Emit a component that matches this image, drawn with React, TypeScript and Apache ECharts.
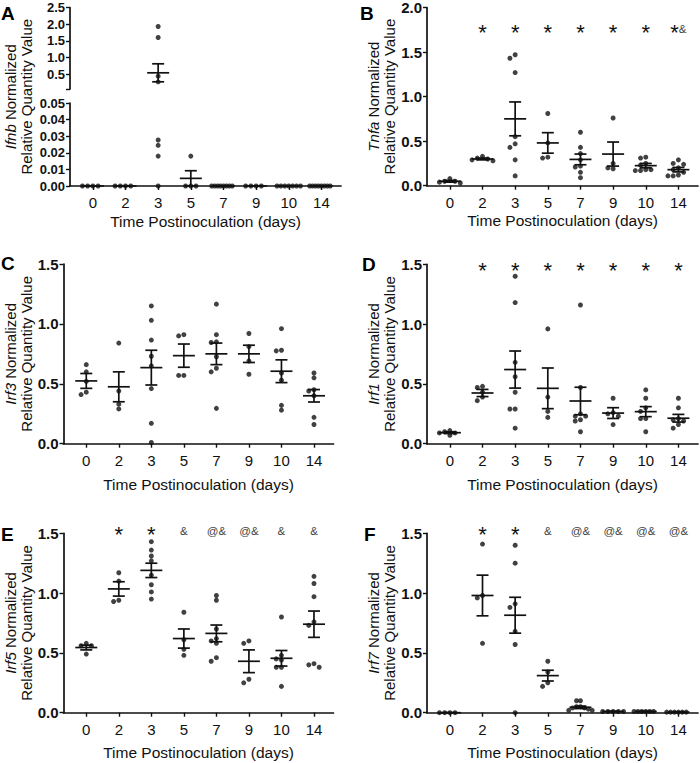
import React, { useEffect, useRef } from "react";
import * as echarts from "echarts";

// ---------- data ----------
const days = ["0", "2", "3", "5", "7", "9", "10", "14"];

// Panel A – Ifnb (broken axis)
const ifnbValues = [
  [0, 0, 0, 0],
  [0, 0, 0, 0],
  [1.93, 1.6, 0.44, 0.27, 0.0277, 0.0245, 0.018, 0],
  [0.018, 0, 0, 0],
  [0, 0, 0, 0, 0, 0, 0, 0],
  [0, 0, 0, 0],
  [0, 0, 0, 0, 0, 0, 0],
  [0, 0, 0, 0, 0, 0, 0, 0],
];
const ifnbMean = [0, 0, 0.54, 0.0046, 0, 0, 0, 0];
const ifnbSem = [0, 0, 0.27, 0.0046, 0, 0, 0, 0];
const ifnbUpperTicks = [0.5, 1, 1.5, 2, 2.5];

// Panel B – Tnfa
const tnfaValues = [
  [0.03, 0.04, 0.05, 0.05, 0.08],
  [0.28, 0.29, 0.3, 0.31, 0.33],
  [1.47, 1.43, 1.27, 0.55, 0.47, 0.43, 0.29, 0.11],
  [0.81, 0.48, 0.32, 0.31],
  [0.6, 0.43, 0.36, 0.29, 0.22, 0.21, 0.15, 0.09],
  [0.76, 0.25, 0.2, 0.19],
  [0.32, 0.31, 0.25, 0.23, 0.18, 0.18, 0.17, 0.17],
  [0.29, 0.25, 0.24, 0.2, 0.18, 0.15, 0.12, 0.11, 0.11],
];
const tnfaMean = [0.05, 0.3, 0.75, 0.48, 0.295, 0.355, 0.225, 0.18];
const tnfaSem = [0.01, 0.01, 0.19, 0.115, 0.06, 0.135, 0.025, 0.025];
const tnfaSig = ["", "*", "*", "*", "*", "*", "*", "*&"];

// Panel C – Irf3
const irf3Values = [
  [0.66, 0.6, 0.52, 0.43, 0.41],
  [0.84, 0.44, 0.33, 0.29],
  [1.15, 1.03, 0.865, 0.73, 0.65, 0.46, 0.17, 0.01],
  [0.91, 0.9, 0.57, 0.57],
  [1.165, 0.91, 0.85, 0.845, 0.726, 0.63, 0.6, 0.295],
  [0.92, 0.81, 0.69, 0.58],
  [0.96, 0.78, 0.775, 0.59, 0.53, 0.32, 0.28],
  [0.59, 0.55, 0.45, 0.44, 0.4, 0.22, 0.16],
];
const irf3Mean = [0.524, 0.475, 0.635, 0.735, 0.75, 0.75, 0.605, 0.4];
const irf3Sem = [0.062, 0.125, 0.145, 0.097, 0.09, 0.072, 0.095, 0.052];

// Panel D – Irf1
const irf1Values = [
  [0.07, 0.09, 0.09, 0.1, 0.11],
  [0.48, 0.47, 0.43, 0.39, 0.36],
  [1.4, 1.18, 0.68, 0.56, 0.43, 0.29, 0.29, 0.13],
  [0.96, 0.39, 0.27, 0.22],
  [1.16, 0.47, 0.25, 0.23, 0.23, 0.2, 0.19, 0.1],
  [0.38, 0.26, 0.25, 0.23, 0.16],
  [0.45, 0.38, 0.3, 0.27, 0.21, 0.21, 0.1],
  [0.38, 0.3, 0.21, 0.2, 0.19, 0.16, 0.13],
];
const irf1Mean = [0.092, 0.424, 0.62, 0.463, 0.357, 0.256, 0.268, 0.213];
const irf1Sem = [0.007, 0.03, 0.155, 0.17, 0.115, 0.045, 0.042, 0.032];
const irf1Sig = ["", "*", "*", "*", "*", "*", "*", "*"];

// Panel E – Irf5
const irf5Values = [
  [0.58, 0.56, 0.56, 0.49],
  [1.17, 1.1, 0.94, 0.93],
  [1.43, 1.36, 1.31, 1.27, 1.15, 1.07, 1.01, 0.95],
  [0.84, 0.61, 0.53, 0.48],
  [0.98, 0.94, 0.7, 0.62, 0.6, 0.58, 0.46, 0.43],
  [0.6, 0.58, 0.28, 0.25],
  [0.8, 0.48, 0.45, 0.44, 0.38, 0.38, 0.22],
  [1.14, 1.08, 0.97, 0.76, 0.73, 0.41, 0.4, 0.38],
];
const irf5Mean = [0.545, 1.035, 1.19, 0.62, 0.663, 0.43, 0.455, 0.74];
const irf5Sem = [0.02, 0.06, 0.06, 0.08, 0.07, 0.095, 0.065, 0.11];
const irf5Sig = ["", "*", "*", "&", "@&", "@&", "&", "&"];

// Panel F – Irf7
const irf7Values = [
  [0, 0, 0, 0],
  [1.41, 0.98, 0.96, 0.58],
  [1.4, 1.25, 0.91, 0.88, 0.68, 0.57, 0],
  [0.43, 0.34, 0.25, 0.22],
  [0.1, 0.1, 0.05, 0.05, 0.04, 0.04, 0.03, 0.02, 0.02],
  [0.01, 0.01, 0.01, 0.01, 0.01],
  [0.01, 0.01, 0.01, 0.01, 0.01, 0.01],
  [0.005, 0.005, 0.005, 0.005, 0.005, 0.005],
];
const irf7Mean = [0, 0.98, 0.815, 0.31, 0.045, 0.01, 0.01, 0.005];
const irf7Sem = [0, 0.17, 0.15, 0.045, 0.01, 0.002, 0.002, 0.001];
const irf7Sig = ["", "*", "*", "&", "@&", "@&", "@&", "@&"];

// ---------- helpers ----------
const FONT = "Liberation Sans, Arial, Helvetica, sans-serif";
const INK = "#111";
const X_MIN = -0.7;
const X_MAX = 7.6;
const IDX = days.map((_, i) => i);
const A_UPPER_MIN = 0.054;

// Prism-like horizontal spreading of overlapping dots (deterministic)
function spread(values: number[], thresh: number, step: number, maxHalf: number): number[] {
  const order = values.map((_, i) => i).sort((a, b) => values[b] - values[a]);
  const cols: number[] = new Array(values.length).fill(0);
  const placed: number[] = [];
  const seq = [0, -1, 1, -2, 2, -3, 3, -4, 4, -5, 5, -6, 6];
  for (const i of order) {
    const near = placed.filter((j) => Math.abs(values[j] - values[i]) < thresh).map((j) => cols[j]);
    let c = 0;
    for (const s of seq) {
      if (!near.includes(s)) {
        c = s;
        break;
      }
    }
    cols[i] = c;
    placed.push(i);
  }
  const maxAbs = Math.max(0, ...cols.map(Math.abs));
  const st = maxAbs * step > maxHalf ? maxHalf / maxAbs : step;
  return cols.map((c) => c * st);
}

function dots(groups: number[][], yMin: number, yMax: number, hPx: number, keep: (v: number) => boolean) {
  const thresh = ((yMax - yMin) / hPx) * 4.5;
  const out: number[][] = [];
  groups.forEach((g, i) => {
    const vals = g.filter(keep);
    const offs = spread(vals, thresh, 0.16, 0.36);
    vals.forEach((v, k) => out.push([i + offs[k], v]));
  });
  return out;
}

function meanSemSeries(xi: number, means: number[], sems: number[], keep: (m: number) => boolean) {
  const data = means.map((m, i) => [i, m, sems[i]]).filter((d) => keep(d[1]));
  return {
    type: "custom",
    xAxisIndex: xi,
    yAxisIndex: xi,
    clip: false,
    z: 3,
    data,
    renderItem: (_p: any, api: any) => {
      const x = api.value(0);
      const m = api.value(1);
      const s = api.value(2);
      const c = api.coord([x, m]);
      const t = api.coord([x, m + s]);
      const b = api.coord([x, m - s]);
      const st = { stroke: INK, lineWidth: 1.7 };
      const w = 11;
      const cw = 6;
      return {
        type: "group",
        children: [
          { type: "line", shape: { x1: c[0] - w, y1: c[1], x2: c[0] + w, y2: c[1] }, style: st },
          { type: "line", shape: { x1: c[0], y1: t[1], x2: c[0], y2: b[1] }, style: st },
          { type: "line", shape: { x1: c[0] - cw, y1: t[1], x2: c[0] + cw, y2: t[1] }, style: st },
          { type: "line", shape: { x1: c[0] - cw, y1: b[1], x2: c[0] + cw, y2: b[1] }, style: st },
        ],
      };
    },
  };
}

function sigSeries(xi: number, marks: string[], level: number) {
  const data = marks.map((s, i) => [i, level]).filter((_, i) => marks[i] !== "");
  const texts = marks.filter((s) => s !== "");
  return {
    type: "custom",
    xAxisIndex: xi,
    yAxisIndex: xi,
    clip: false,
    z: 4,
    data,
    renderItem: (p: any, api: any) => {
      const c = api.coord([api.value(0), api.value(1)]);
      const str = texts[p.dataIndex]
        .split("")
        .map((ch) => (ch === "*" ? `{s|*}` : `{a|${ch}}`))
        .join("");
      return {
        type: "text",
        x: c[0],
        y: c[1],
        style: {
          text: str,
          align: "center",
          verticalAlign: "middle",
          rich: {
            s: { fontSize: 22, fontFamily: FONT, fill: INK, color: INK, padding: [8, 0, 0, 0] },
            a: { fontSize: 11.5, fontFamily: FONT, fill: "#444", color: "#444" },
          },
        },
      };
    },
  };
}

function scatterSeries(xi: number, data: number[][]) {
  return {
    type: "scatter",
    xAxisIndex: xi,
    yAxisIndex: xi,
    symbolSize: 5,
    itemStyle: { color: INK },
    z: 2,
    data,
  };
}

function xAxis(gridIndex: number, show: boolean, nameGap: number) {
  return {
    type: "value",
    gridIndex,
    show,
    min: X_MIN,
    max: X_MAX,
    axisLine: { show: true, onZero: false, lineStyle: { color: INK, width: 1.7 } },
    axisTick: { show: true, customValues: IDX, length: 4, lineStyle: { color: INK, width: 1.4 } },
    axisLabel: {
      customValues: IDX,
      formatter: (v: number) => days[Math.round(v)],
      margin: 9,
      fontSize: 15,
      color: INK,
      fontFamily: FONT,
    },
    splitLine: { show: false },
    name: "Time Postinoculation (days)",
    nameLocation: "middle",
    nameGap,
    nameMoveOverlap: false,
    nameTextStyle: { fontSize: 15.5, color: INK, fontFamily: FONT },
  };
}

function yAxis(gridIndex: number, min: number, max: number, interval: number, digits: number, fontSize = 15, extra: any = {}) {
  return {
    type: "value",
    gridIndex,
    min,
    max,
    interval,
    axisLine: { show: true, onZero: false, lineStyle: { color: INK, width: 1.7 } },
    axisTick: { show: true, length: 4, lineStyle: { color: INK, width: 1.4 } },
    axisLabel: {
      formatter: (v: number) => v.toFixed(digits),
      margin: 5,
      fontSize,
      fontWeight: "bold",
      color: INK,
      fontFamily: FONT,
    },
    splitLine: { show: false },
    ...extra,
  };
}

function yName(gene: string, gap: number) {
  return {
    name: `{i|${gene}} Normalized\nRelative Quantity Value`,
    nameLocation: "middle",
    nameRotate: 90,
    nameGap: gap,
    nameMoveOverlap: false,
    nameTextStyle: {
      fontSize: 15,
      lineHeight: 16,
      color: INK,
      fontFamily: FONT,
      rich: { i: { fontSize: 15, lineHeight: 16, fontStyle: "italic", color: INK, fontFamily: FONT } },
    },
  };
}

function buildOption() {
  const W = 271;
  const grids = [
    { left: 70, top: 7.5, width: W, height: 81.5 }, // 0 A upper
    { left: 70, top: 103, width: W, height: 83 }, // 1 A lower
    { left: 427, top: 7.5, width: W, height: 178.2 }, // 2 B
    { left: 63.5, top: 264, width: 270, height: 179.7 }, // 3 C
    { left: 427, top: 264.3, width: W, height: 179.4 }, // 4 D
    { left: 63.5, top: 533.3, width: 270, height: 179.4 }, // 5 E
    { left: 427, top: 533.3, width: W, height: 179.4 }, // 6 F
    { left: 70, top: 7.5, width: W, height: 178.5 }, // 7 A name holder
  ];

  const yAxes = [
    yAxis(0, A_UPPER_MIN, 2.5, 0.5, 1, 13, {
      interval: undefined,
      axisLabel: {
        customValues: ifnbUpperTicks,
        formatter: (v: number) => v.toFixed(1),
        margin: 5,
        fontSize: 13,
        fontWeight: "bold",
        color: INK,
        fontFamily: FONT,
      },
      axisTick: {
        show: true,
        customValues: [A_UPPER_MIN, ...ifnbUpperTicks],
        length: 4,
        lineStyle: { color: INK, width: 1.4 },
      },
    }),
    yAxis(1, 0, 0.05, 0.01, 2, 13),
    yAxis(2, 0, 2, 0.5, 1, 15, yName("Tnfa", 30)),
    yAxis(3, 0, 1.5, 0.5, 1, 15, yName("Irf3", 29)),
    yAxis(4, 0, 1.5, 0.5, 1, 15, yName("Irf1", 30)),
    yAxis(5, 0, 1.5, 0.5, 1, 15, yName("Irf5", 29)),
    yAxis(6, 0, 1.5, 0.5, 1, 15, yName("Irf7", 30)),
    {
      type: "value",
      gridIndex: 7,
      min: 0,
      max: 1,
      axisLine: { show: false },
      axisTick: { show: false },
      axisLabel: { show: false },
      splitLine: { show: false },
      ...yName("Ifnb", 36),
    },
  ];

  const xAxes = [
    xAxis(0, false, 27),
    xAxis(1, true, 27),
    xAxis(2, true, 27),
    xAxis(3, true, 33),
    xAxis(4, true, 33),
    xAxis(5, true, 32),
    xAxis(6, true, 32),
    xAxis(7, false, 27),
  ];

  const series: any[] = [
    scatterSeries(0, dots(ifnbValues, A_UPPER_MIN, 2.5, 81.5, (v) => v > 0.05)),
    meanSemSeries(0, ifnbMean, ifnbSem, (m) => m > 0.05),
    scatterSeries(1, dots(ifnbValues, 0, 0.05, 83, (v) => v <= 0.05)),
    meanSemSeries(1, ifnbMean, ifnbSem, (m) => m <= 0.05),

    scatterSeries(2, dots(tnfaValues, 0, 2, 178.2, () => true)),
    meanSemSeries(2, tnfaMean, tnfaSem, () => true),
    sigSeries(2, tnfaSig, 1.76),

    scatterSeries(3, dots(irf3Values, 0, 1.5, 179.7, () => true)),
    meanSemSeries(3, irf3Mean, irf3Sem, () => true),

    scatterSeries(4, dots(irf1Values, 0, 1.5, 179.4, () => true)),
    meanSemSeries(4, irf1Mean, irf1Sem, () => true),
    sigSeries(4, irf1Sig, 1.48),

    scatterSeries(5, dots(irf5Values, 0, 1.5, 179.4, () => true)),
    meanSemSeries(5, irf5Mean, irf5Sem, () => true),
    sigSeries(5, irf5Sig, 1.52),

    scatterSeries(6, dots(irf7Values, 0, 1.5, 179.4, () => true)),
    meanSemSeries(6, irf7Mean, irf7Sem, () => true),
    sigSeries(6, irf7Sig, 1.52),
  ];

  const letter = (text: string, left: number, top: number) => ({
    text,
    left,
    top,
    padding: 0,
    textStyle: { fontSize: 19, fontWeight: "bold", color: "#000", fontFamily: FONT },
  });

  return {
    animation: false,
    backgroundColor: "#fff",
    title: [
      letter("A", 1, 4),
      letter("B", 360, 4),
      letter("C", 1, 254),
      letter("D", 362, 255),
      letter("E", 1, 525),
      letter("F", 364, 525),
    ],
    grid: grids.map((g) => ({ ...g, containLabel: false, outerBoundsMode: "none" })),
    xAxis: xAxes,
    yAxis: yAxes,
    series,
  };
}

export default function App() {
  const ref = useRef<HTMLDivElement>(null);
  useEffect(() => {
    if (!ref.current) return;
    const chart = echarts.init(ref.current, undefined, { renderer: "svg" });
    chart.setOption(buildOption() as any);
    return () => chart.dispose();
  }, []);
  return (
    <div
      ref={ref}
      style={{ position: "absolute", left: 0, top: 0, width: 700, height: 763, background: "#fff" }}
    />
  );
}
